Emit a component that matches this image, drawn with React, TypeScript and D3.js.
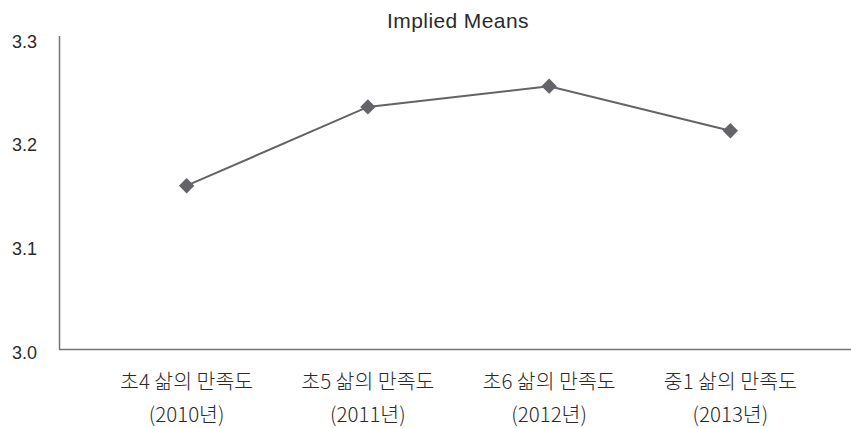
import React from "react";
import * as d3 from "d3";

const categories: string[][] = [
  ["초4 삶의 만족도", "(2010년)"],
  ["초5 삶의 만족도", "(2011년)"],
  ["초6 삶의 만족도", "(2012년)"],
  ["중1 삶의 만족도", "(2013년)"],
];
const impliedMeans: number[] = [3.158, 3.234, 3.254, 3.211];
const yTicks: number[] = [3.0, 3.1, 3.2, 3.3];
const title = "Implied Means";

const W = 851;
const H = 428;

export default function App() {
  const keys = categories.map((c) => c[0]);
  const x = d3.scaleBand<string>().domain(keys).range([96, 821]);
  const y = d3.scaleLinear().domain([3.0, 3.3]).range([349.5, 38.5]);
  const cx = (i: number) => (x(keys[i]) as number) + x.bandwidth() / 2;

  const line = d3
    .line<number>()
    .x((_, i) => cx(i))
    .y((d) => y(d));

  const diamond = d3.symbol().type(d3.symbolDiamond2).size(150)();

  const axisColor = "#757575";
  const markColor = "#646468";
  const textColor = "#2b2b2b";
  const cjk = "'Noto Sans CJK KR', 'Noto Sans', sans-serif";
  const latin = "'Liberation Sans', Arial, sans-serif";

  return (
    <svg
      width={W}
      height={H}
      style={{ position: "absolute", left: 0, top: 0, background: "#fff" }}
    >
      <text
        x={458}
        y={28}
        textAnchor="middle"
        fontFamily={latin}
        fontSize={21}
        fill={textColor}
        letterSpacing={0.4}
      >
        {title}
      </text>

      {/* value axis */}
      <line x1={59.5} x2={59.5} y1={36} y2={y(3.0)} stroke={axisColor} strokeWidth={1.5} />
      {yTicks.map((t) => (
        <text
          key={t}
          x={37}
          y={y(t) + 9}
          textAnchor="end"
          fontFamily={latin}
          fontSize={18}
          fill={textColor}
        >
          {t.toFixed(1)}
        </text>
      ))}

      {/* category axis */}
      <line x1={59} x2={W} y1={y(3.0)} y2={y(3.0)} stroke={axisColor} strokeWidth={1.5} />
      {categories.map((c, i) => (
        <text
          key={c[0]}
          textAnchor="middle"
          fontFamily={cjk}
          fontSize={20.5}
          fontWeight={300}
          fill={textColor}
        >
          <tspan x={cx(i)} y={389}>
            {c[0]}
          </tspan>
          <tspan x={cx(i)} y={422}>
            {c[1]}
          </tspan>
        </text>
      ))}

      <path d={line(impliedMeans) ?? ""} fill="none" stroke={markColor} strokeWidth={2} />
      {impliedMeans.map((v, i) => (
        <path
          key={i}
          d={diamond ?? ""}
          transform={`translate(${cx(i)},${y(v)})`}
          fill={markColor}
        />
      ))}
    </svg>
  );
}
